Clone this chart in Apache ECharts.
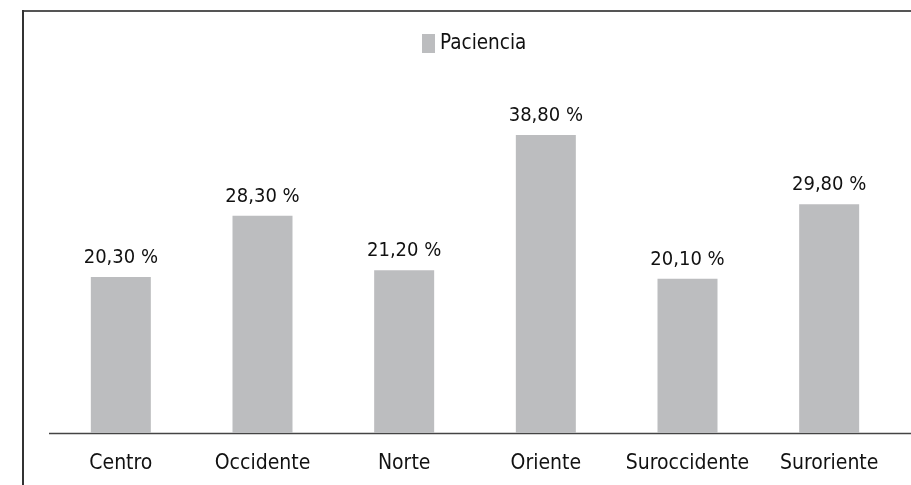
<!DOCTYPE html>
<html>
<head>
<meta charset="utf-8">
<script src="https://cdn.jsdelivr.net/npm/echarts@6/dist/echarts.min.js"></script>
<style>
  html, body { margin: 0; padding: 0; background: #fff; }
  #chart { width: 911px; height: 485px; }
</style>
</head>
<body>
<div id="chart"></div>
<script>
const categories = ['Centro', 'Occidente', 'Norte', 'Oriente', 'Suroccidente', 'Suroriente'];
const paciencia = [20.3, 28.3, 21.2, 38.8, 20.1, 29.8];
const seriesName = 'Paciencia';

const FONT = '"DejaVu Sans Condensed", "Liberation Sans Narrow", sans-serif';

const myChart = echarts.init(document.getElementById('chart'));

const option = {
  backgroundColor: '#fff',
  animation: false,
  textStyle: { fontFamily: FONT },
  legend: {
    top: 28,
    left: 417,
    itemWidth: 13,
    itemHeight: 19,
    itemGap: 9,
    icon: 'rect',
    textStyle: { fontSize: 20.5, color: '#111', fontFamily: FONT },
    data: [seriesName]
  },
  grid: { left: 50, right: 11, top: 49, bottom: 52 },
  xAxis: {
    type: 'category',
    data: categories,
    axisLine: { show: false },
    axisTick: { show: false },
    axisLabel: { interval: 0, fontSize: 21, color: '#111', margin: 20, fontFamily: FONT }
  },
  yAxis: {
    type: 'value',
    min: 0,
    max: 50,
    show: false,
    splitLine: { show: false }
  },
  series: [{
    name: seriesName,
    type: 'bar',
    data: paciencia,
    barWidth: 60,
    itemStyle: { color: '#bcbdbf' },
    label: {
      show: true,
      position: 'top',
      distance: 9,
      fontSize: 20,
      color: '#111',
      fontFamily: FONT,
      formatter: p => p.value.toFixed(2).replace('.', ',') + ' %'
    }
  }],
  graphic: [
    // outer frame (top and left edges visible)
    { type: 'line', shape: { x1: 23, y1: 11, x2: 911, y2: 11 }, style: { stroke: '#555', lineWidth: 2 } },
    { type: 'line', shape: { x1: 23, y1: 10, x2: 23, y2: 485 }, style: { stroke: '#333', lineWidth: 2 } },
    // baseline
    { type: 'line', shape: { x1: 49, y1: 433.5, x2: 911, y2: 433.5 }, style: { stroke: '#444', lineWidth: 1.5 } }
  ]
};

myChart.setOption(option);
</script>
</body>
</html>
